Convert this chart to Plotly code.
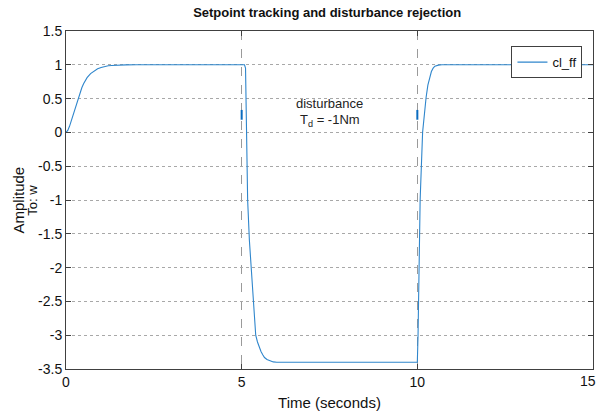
import plotly.graph_objects as go

# Step response of closed loop (setpoint at t=0, disturbance on at 5 s, off at 10 s)
t_vals = [0.0, 0.05, 0.1, 0.15, 0.2, 0.25, 0.3, 0.35, 0.4, 0.45, 0.5, 0.6, 0.7, 0.8, 0.9, 1.0, 1.1, 1.2, 1.3,
          1.4, 1.55, 1.7, 2.0,
          5.0, 5.08, 5.11, 5.13, 5.17, 5.22, 5.27, 5.33, 5.40, 5.45, 5.50, 5.55, 5.60, 5.65, 5.72, 5.8, 5.9, 6.0, 6.5,
          10.0, 10.02, 10.05, 10.08, 10.15, 10.2, 10.25, 10.3, 10.35, 10.4, 10.45, 10.5, 10.6, 10.7, 11.0, 15.0]
y_vals = [0.0, 0.03, 0.09, 0.17, 0.26, 0.35, 0.44, 0.52, 0.60, 0.66, 0.72, 0.81, 0.87, 0.91, 0.94, 0.96, 0.975, 0.985, 0.99,
          0.994, 0.997, 0.999, 1.0,
          1.0, 1.0, 0.95, 0.4, -1.0, -1.6, -2.0, -2.5, -3.0, -3.1, -3.18, -3.24, -3.29, -3.33, -3.36, -3.38, -3.395, -3.40, -3.40,
          -3.40, -3.0, -2.0, -1.0, 0.0, 0.3, 0.52, 0.70, 0.82, 0.90, 0.95, 0.98, 0.995, 1.0, 1.0, 1.0]

dist_times = [5, 10]
dist_mark_y = [0.26, 0.26]

x_ticks = [0, 5, 10, 15]
y_ticks = [1.5, 1, 0.5, 0, -0.5, -1, -1.5, -2, -2.5, -3, -3.5]

font_fam = "Liberation Sans Narrow, Arial Narrow, Liberation Sans, Arial, sans-serif"
blue = "#2f86cc"

fig = go.Figure()
fig.add_trace(go.Scatter(x=t_vals, y=y_vals, mode="lines", name="cl_ff",
                         line=dict(color=blue, width=1.1)))
fig.add_trace(go.Scatter(x=dist_times, y=dist_mark_y, mode="markers", showlegend=False,
                         marker=dict(symbol="line-ns", size=7, line=dict(color="#0a6cc0", width=2))))

fig.add_annotation(x=7.5, y=0.43, text="disturbance", showarrow=False,
                   font=dict(family=font_fam, size=13, color="#222"))
fig.add_annotation(x=7.5, y=0.17, text="T<sub>d</sub> = -1Nm", showarrow=False,
                   font=dict(family=font_fam, size=13, color="#222"))

fig.add_annotation(xref="paper", yref="paper", x=-0.092, y=0.5, text="Amplitude", textangle=-90,
                   showarrow=False, xanchor="center", yanchor="middle",
                   font=dict(family=font_fam, size=15, color="#111"))
fig.add_annotation(xref="paper", yref="paper", x=-0.065, y=0.5, text="To: w", textangle=-90,
                   showarrow=False, xanchor="center", yanchor="middle",
                   font=dict(family=font_fam, size=13, color="#111"))

# last x tick label placed so it stays inside the page (as in the reference)
last_tick = x_ticks[-1]
fig.add_annotation(x=last_tick, xref="x", yref="paper", y=0, yanchor="top", yshift=-2,
                   xanchor="right", xshift=5, text=str(last_tick), showarrow=False,
                   font=dict(family=font_fam, size=14, color="#111"))

axis_common = dict(showline=True, linecolor="#404040", linewidth=1, mirror="ticks",
                   ticks="inside", ticklen=5, tickcolor="#404040", zeroline=False,
                   automargin=False,
                   tickfont=dict(family=font_fam, size=14, color="#111"))

fig.update_xaxes(range=[0, 15], tickvals=x_ticks,
                 ticktext=[str(v) if v != last_tick else "" for v in x_ticks],
                 showgrid=True, gridcolor="#9a9a9a", griddash="dash", gridwidth=1,
                 title=dict(text="Time (seconds)", font=dict(family=font_fam, size=15, color="#111"),
                            standoff=8),
                 **axis_common)
fig.update_yaxes(range=[-3.5, 1.5], tickvals=y_ticks, ticktext=[f"{v:g}" for v in y_ticks],
                 showgrid=True, gridcolor="#a8a8a8", griddash="dot", gridwidth=1,
                 **axis_common)

fig.update_layout(
    width=597, height=418,
    margin=dict(l=66, r=4, t=31, b=49),
    paper_bgcolor="white", plot_bgcolor="white",
    title=dict(text="<b>Setpoint tracking and disturbance rejection</b>", x=0.548, xanchor="center",
               y=0.97, yanchor="middle",
               font=dict(family=font_fam, size=13, color="#111")),
    legend=dict(x=0.98, y=0.955, xanchor="right", yanchor="top", bgcolor="white",
                bordercolor="#404040", borderwidth=1,
                font=dict(family=font_fam, size=13, color="#111"),
                itemwidth=30, tracegroupgap=0),
    showlegend=True,
)

fig.write_html("out.html")
